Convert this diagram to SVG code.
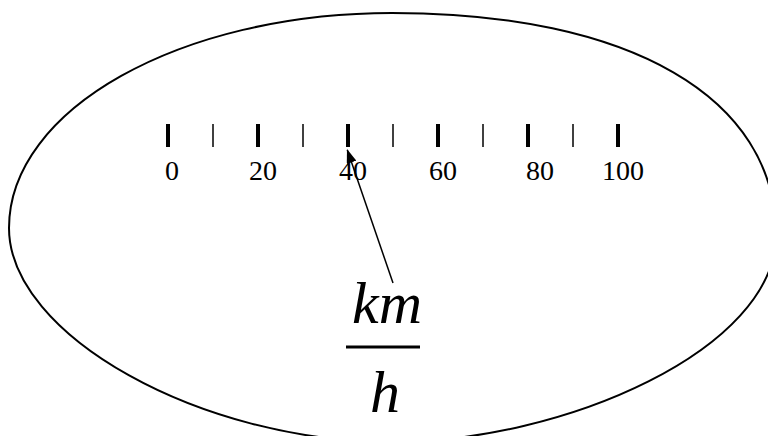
<svg xmlns="http://www.w3.org/2000/svg" width="768" height="436" viewBox="0 0 768 436">
<style>
.outline{fill:none;stroke:#000;stroke-width:2}
.major{stroke:#000;stroke-width:4}
.minor{stroke:#000;stroke-width:1.5}
.num{font-family:"Liberation Serif","Times New Roman",serif;font-size:28px;fill:#000;text-anchor:middle}
.unit{font-family:"Liberation Serif","Times New Roman",serif;font-size:60px;font-style:italic;fill:#000;text-anchor:middle}
.conn{stroke:#000;stroke-width:1.5;fill:none}
</style>
<defs>
<marker id="ah" markerUnits="userSpaceOnUse" viewBox="0 0 14 10" refX="13" refY="5" markerWidth="14" markerHeight="10" orient="auto">
<path d="M0,0 L14,5 L0,10 z" fill="#000"/>
</marker>
</defs>
<rect width="768" height="436" fill="#fff"/>
<g id="dial">
<path class="outline" d="M9,228 C9,109.3 180.5,13 392,13 C630.1,13 776,97.4 776,235 C776,349.3 563.9,442 392,442 C200.5,442 9,335 9,228 Z"/>
</g>
<g id="scale">
<line class="major" x1="168" y1="124" x2="168" y2="147"/>
<line class="minor" x1="213" y1="124" x2="213" y2="147"/>
<line class="major" x1="258" y1="124" x2="258" y2="147"/>
<line class="minor" x1="303" y1="124" x2="303" y2="147"/>
<line class="major" x1="348" y1="124" x2="348" y2="147"/>
<line class="minor" x1="393" y1="124" x2="393" y2="147"/>
<line class="major" x1="438" y1="124" x2="438" y2="147"/>
<line class="minor" x1="483" y1="124" x2="483" y2="147"/>
<line class="major" x1="528" y1="124" x2="528" y2="147"/>
<line class="minor" x1="573" y1="124" x2="573" y2="147"/>
<line class="major" x1="618" y1="124" x2="618" y2="147"/>
<text class="num" x="172" y="180">0</text>
<text class="num" x="263" y="180">20</text>
<text class="num" x="353" y="180">40</text>
<text class="num" x="443" y="180">60</text>
<text class="num" x="540" y="180">80</text>
<text class="num" x="623" y="180">100</text>
</g>
<g id="unit">
<text class="unit" x="387" y="323">km</text>
<line x1="346" y1="347" x2="420" y2="347" stroke="#000" stroke-width="3"/>
<text class="unit" x="385" y="412">h</text>
</g>
<g id="connectors">
<line class="conn" x1="393" y1="283" x2="347.3" y2="150" marker-end="url(#ah)"/>
</g>
</svg>
